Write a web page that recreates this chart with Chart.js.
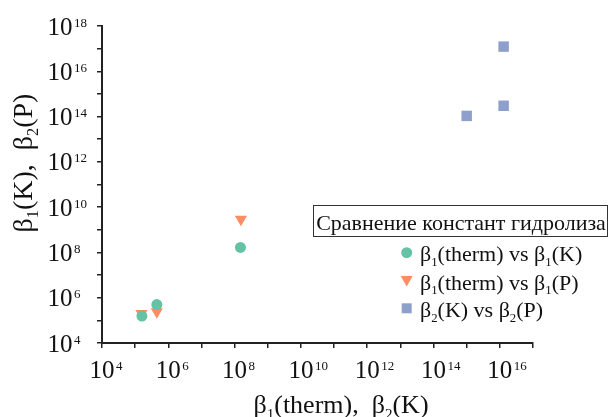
<!DOCTYPE html>
<html>
<head>
<meta charset="utf-8">
<script src="https://cdn.jsdelivr.net/npm/chart.js@4/dist/chart.umd.min.js"></script>
<style>
  html, body { margin: 0; padding: 0; background: #fff; }
  #wrap { width: 610px; height: 417px; }
</style>
</head>
<body>
<div id="wrap"><canvas id="chart" width="610" height="417"></canvas></div>
<script>
// Data (log-log)
const thermK1_x = [1.6e5, 4.5e5, 1.5e8];
const thermK1_y = [1.55e5, 5.0e5, 1.66e8];
const thermP1_x = [1.55e5, 4.5e5, 1.55e8];
const thermP1_y = [2.0e5, 2.4e5, 2.9e9];
const K2P2_x = [1.0e15, 1.3e16, 1.3e16];
const K2P2_y = [1.07e14, 3.0e14, 1.23e17];

const seriesNames = [
  [['β'], ['1', 'sub'], ['(therm) vs β'], ['1', 'sub'], ['(K)']],
  [['β'], ['1', 'sub'], ['(therm) vs β'], ['1', 'sub'], ['(P)']],
  [['β'], ['2', 'sub'], ['(K) vs β'], ['2', 'sub'], ['(P)']]
];
const legendTitle = 'Сравнение констант гидролиза';
const xTitle = [['β'], ['1', 'sub'], ['(therm),  β'], ['2', 'sub'], ['(K)']];
const yTitle = [['β'], ['1', 'sub'], ['(K),  β'], ['2', 'sub'], ['(P)']];

const xTickExps = [4, 6, 8, 10, 12, 14, 16];
const yTickExps = [4, 6, 8, 10, 12, 14, 16, 18];

const colors = ['#66c2a5', '#fc8d62', '#8da0cb'];
const FONT = '"Liberation Serif", "Times New Roman", serif';

const toPoints = (xs, ys) => xs.map((x, i) => ({ x: x, y: ys[i] }));

// draw text with subscripts
function richWidth(ctx, parts, size) {
  let w = 0;
  parts.forEach(p => {
    const s = p[1] ? size * 0.58 : size;
    ctx.font = s + 'px ' + FONT;
    w += ctx.measureText(p[0]).width;
  });
  return w;
}

function drawRich(ctx, parts, x, y, size, align) {
  const w = richWidth(ctx, parts, size);
  let cx = align === 'center' ? x - w / 2 : align === 'right' ? x - w : x;
  ctx.textAlign = 'left';
  ctx.textBaseline = 'alphabetic';
  parts.forEach(p => {
    const s = p[1] ? size * 0.58 : size;
    const dy = p[1] === 'sub' ? size * 0.22 : 0;
    ctx.font = s + 'px ' + FONT;
    ctx.fillText(p[0], cx, y + dy);
    cx += ctx.measureText(p[0]).width;
  });
}

// "10" + exponent; x,y = anchor of the "10" part
function drawPow(ctx, exp, x, y, align) {
  ctx.textBaseline = 'alphabetic';
  ctx.font = '25px ' + FONT;
  const w = ctx.measureText('10').width;
  const left = align === 'center' ? x - w / 2 : x - w;
  ctx.textAlign = 'left';
  ctx.fillText('10', left, y);
  ctx.font = '13px ' + FONT;
  ctx.fillText(String(exp), left + w + 1.5, y - 8);
}

const decadeTicks = (scale) => {
  const ticks = [];
  for (let e = Math.round(Math.log10(scale.min)); e <= Math.round(Math.log10(scale.max)); e++) {
    ticks.push({ value: Math.pow(10, e) });
  }
  scale.ticks = ticks;
};

const textPlugin = {
  id: 'textPlugin',
  afterDraw(chart) {
    const ctx = chart.ctx;
    const area = chart.chartArea;
    const xs = chart.scales.x;
    const ys = chart.scales.y;
    ctx.save();
    ctx.fillStyle = '#111';

    // tick labels
    xTickExps.forEach(e => {
      drawPow(ctx, e, xs.getPixelForValue(Math.pow(10, e)), area.bottom + 34.5, 'center');
    });
    yTickExps.forEach(e => {
      drawPow(ctx, e, area.left - 29.5, ys.getPixelForValue(Math.pow(10, e)) + 8.5, 'right');
    });

    // axis titles
    drawRich(ctx, xTitle, 341, 413, 26, 'center');
    ctx.save();
    ctx.translate(31.5, 163);
    ctx.rotate(-Math.PI / 2);
    drawRich(ctx, yTitle, 0, 0, 28, 'center');
    ctx.restore();

    // legend
    ctx.fillStyle = '#fff';
    ctx.fillRect(313, 205, 295, 32);
    ctx.strokeStyle = '#333';
    ctx.lineWidth = 1;
    ctx.strokeRect(313.5, 205.5, 294, 31);
    ctx.fillStyle = '#111';
    drawRich(ctx, [[legendTitle]], 461, 229.5, 22, 'center');

    const rowY = [252.7, 281, 308.3];
    const mx = 406.7;
    chart.data.datasets.forEach((ds, i) => {
      const y = rowY[i];
      ctx.fillStyle = colors[i];
      ctx.beginPath();
      if (i === 0) {
        ctx.arc(mx, y, 5.5, 0, Math.PI * 2);
      } else if (i === 1) {
        ctx.moveTo(mx - 6, y - 5);
        ctx.lineTo(mx + 6, y - 5);
        ctx.lineTo(mx, y + 5.5);
        ctx.closePath();
      } else {
        ctx.rect(mx - 5, y - 5, 10, 10);
      }
      ctx.fill();
      ctx.fillStyle = '#111';
      drawRich(ctx, seriesNames[i], 420, y + 8.5, 22, 'left');
    });
    ctx.restore();
  }
};

const axisStyle = {
  type: 'logarithmic',
  afterBuildTicks: decadeTicks,
  ticks: { display: false },
  grid: { drawOnChartArea: false, drawTicks: true, tickLength: 5, color: '#222', lineWidth: 1.5 },
  border: { display: true, color: '#222', width: 2 },
  title: { display: false }
};

new Chart(document.getElementById('chart'), {
  type: 'scatter',
  data: {
    datasets: [
      {
        label: 'b1 therm vs K',
        data: toPoints(thermK1_x, thermK1_y),
        pointStyle: 'circle',
        pointRadius: 5.5,
        backgroundColor: colors[0],
        borderWidth: 0
      },
      {
        label: 'b1 therm vs P',
        data: toPoints(thermP1_x, thermP1_y),
        pointStyle: 'triangle',
        rotation: 180,
        pointRadius: 7,
        backgroundColor: colors[1],
        borderWidth: 0
      },
      {
        label: 'b2 K vs P',
        data: toPoints(K2P2_x, K2P2_y),
        pointStyle: 'rect',
        pointRadius: 7.4,
        backgroundColor: colors[2],
        borderWidth: 0
      }
    ]
  },
  options: {
    responsive: false,
    animation: false,
    layout: { padding: { top: 26, right: 77, left: 0, bottom: 0 } },
    plugins: { legend: { display: false }, tooltip: { enabled: false } },
    scales: {
      x: Object.assign({}, axisStyle, {
        min: 1e4, max: 1e17,
        afterFit: s => { s.height = 74; }
      }),
      y: Object.assign({}, axisStyle, {
        min: 1e4, max: 1e18,
        afterFit: s => { s.width = 102; }
      })
    }
  },
  plugins: [textPlugin]
});
</script>
</body>
</html>
